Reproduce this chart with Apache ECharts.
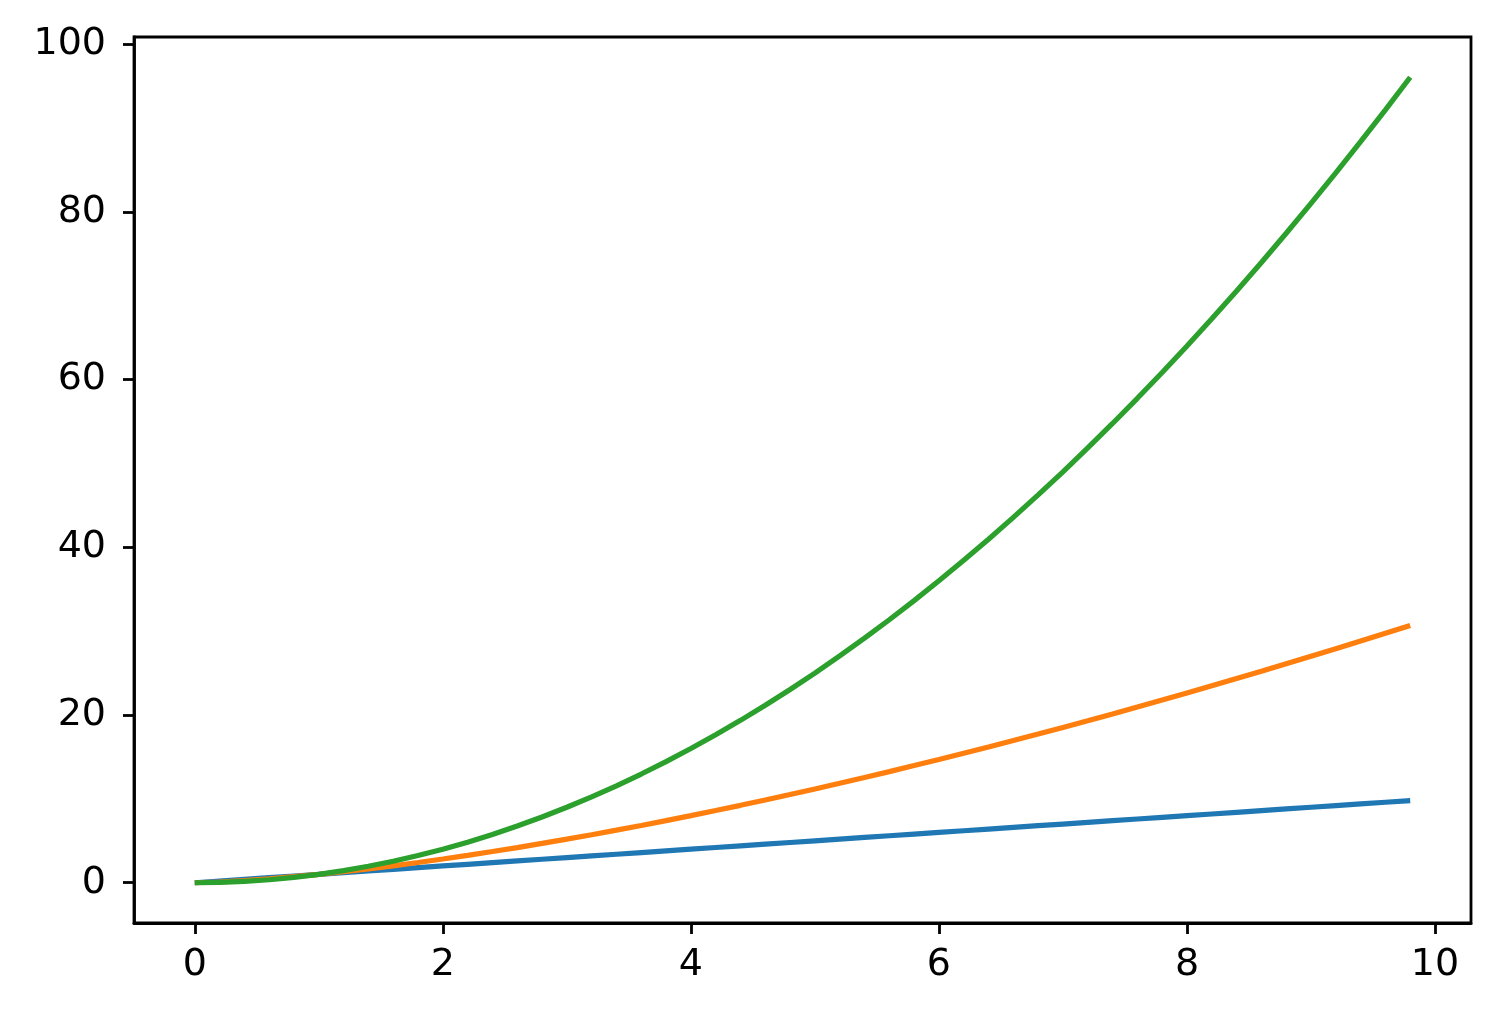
<!DOCTYPE html>
<html>
<head>
    <meta charset="utf-8">
    <title>chart</title>
    <script src="https://cdn.jsdelivr.net/npm/echarts@6/dist/echarts.min.js"></script>
    <style>
        html, body { margin: 0; padding: 0; background: #fff; }
        #main { width: 1501px; height: 1021px; }
    </style>
</head>
<body>
<div id="main"></div>
<script type="text/javascript">
    // x positions
    var xs = [0, 0.2, 0.4, 0.6, 0.8, 1.0, 1.2, 1.4, 1.6, 1.8,
        2.0, 2.2, 2.4, 2.6, 2.8, 3.0, 3.2, 3.4, 3.6, 3.8,
        4.0, 4.2, 4.4, 4.6, 4.8, 5.0, 5.2, 5.4, 5.6, 5.8,
        6.0, 6.2, 6.4, 6.6, 6.8, 7.0, 7.2, 7.4, 7.6, 7.8,
        8.0, 8.2, 8.4, 8.6, 8.8, 9.0, 9.2, 9.4, 9.6, 9.8];

    // blue line
    var blueVals = [0, 0.2, 0.4, 0.6, 0.8, 1.0, 1.2, 1.4, 1.6, 1.8,
        2.0, 2.2, 2.4, 2.6, 2.8, 3.0, 3.2, 3.4, 3.6, 3.8,
        4.0, 4.2, 4.4, 4.6, 4.8, 5.0, 5.2, 5.4, 5.6, 5.8,
        6.0, 6.2, 6.4, 6.6, 6.8, 7.0, 7.2, 7.4, 7.6, 7.8,
        8.0, 8.2, 8.4, 8.6, 8.8, 9.0, 9.2, 9.4, 9.6, 9.8];

    // orange line
    var orangeVals = [0, 0.09, 0.25, 0.46, 0.72, 1.0, 1.31, 1.66, 2.02, 2.41,
        2.83, 3.26, 3.72, 4.19, 4.69, 5.20, 5.72, 6.27, 6.83, 7.41,
        8.0, 8.61, 9.23, 9.87, 10.52, 11.18, 11.86, 12.55, 13.25, 13.97,
        14.70, 15.44, 16.19, 16.96, 17.73, 18.52, 19.32, 20.13, 20.95, 21.78,
        22.63, 23.48, 24.35, 25.22, 26.11, 27.0, 27.91, 28.82, 29.75, 30.68];

    // green line
    var greenVals = [0, 0.04, 0.16, 0.36, 0.64, 1.0, 1.44, 1.96, 2.56, 3.24,
        4.0, 4.84, 5.76, 6.76, 7.84, 9.0, 10.24, 11.56, 12.96, 14.44,
        16.0, 17.64, 19.36, 21.16, 23.04, 25.0, 27.04, 29.16, 31.36, 33.64,
        36.0, 38.44, 40.96, 43.56, 46.24, 49.0, 51.84, 54.76, 57.76, 60.84,
        64.0, 67.24, 70.56, 73.96, 77.44, 81.0, 84.64, 88.36, 92.16, 96.04];

    // tick labels
    var xTicks = [0, 2, 4, 6, 8, 10];
    var yTicks = [0, 20, 40, 60, 80, 100];

    function pairs(vals) {
        var out = [];
        for (var i = 0; i < xs.length; i++) {
            out.push([xs[i], vals[i]]);
        }
        return out;
    }

    var labelFont = {
        fontFamily: 'DejaVu Sans',
        fontSize: 38,
        color: '#000'
    };

    var myChart = echarts.init(document.getElementById('main'));
    myChart.setOption({
        animation: false,
        backgroundColor: '#fff',
        grid: {
            left: 134,
            right: 30,
            top: 37,
            bottom: 98,
            show: true,
            borderColor: '#000',
            borderWidth: 2.8,
            outerBoundsMode: 'none'
        },
        xAxis: {
            type: 'value',
            min: -0.49,
            max: 10.29,
            splitLine: { show: false },
            axisLine: { show: true, onZero: false, lineStyle: { color: '#000', width: 2.8 } },
            axisTick: {
                show: true,
                inside: false,
                customValues: xTicks,
                length: 11,
                lineStyle: { color: '#000', width: 2.8 }
            },
            axisLabel: Object.assign({
                customValues: xTicks,
                margin: 23
            }, labelFont)
        },
        yAxis: {
            type: 'value',
            min: -4.8,
            max: 100.84,
            splitLine: { show: false },
            axisLine: { show: true, onZero: false, lineStyle: { color: '#000', width: 2.8 } },
            axisTick: {
                show: true,
                inside: false,
                customValues: yTicks,
                length: 11,
                lineStyle: { color: '#000', width: 2.8 }
            },
            axisLabel: Object.assign({
                customValues: yTicks,
                margin: 28
            }, labelFont)
        },
        series: [
            {
                type: 'line',
                data: pairs(blueVals),
                showSymbol: false,
                lineStyle: { color: '#1f77b4', width: 5.2 },
                z: 2
            },
            {
                type: 'line',
                data: pairs(orangeVals),
                showSymbol: false,
                lineStyle: { color: '#ff7f0e', width: 5.2 },
                z: 3
            },
            {
                type: 'line',
                data: pairs(greenVals),
                showSymbol: false,
                lineStyle: { color: '#2ca02c', width: 5.2 },
                z: 4
            }
        ]
    });
</script>
</body>
</html>
